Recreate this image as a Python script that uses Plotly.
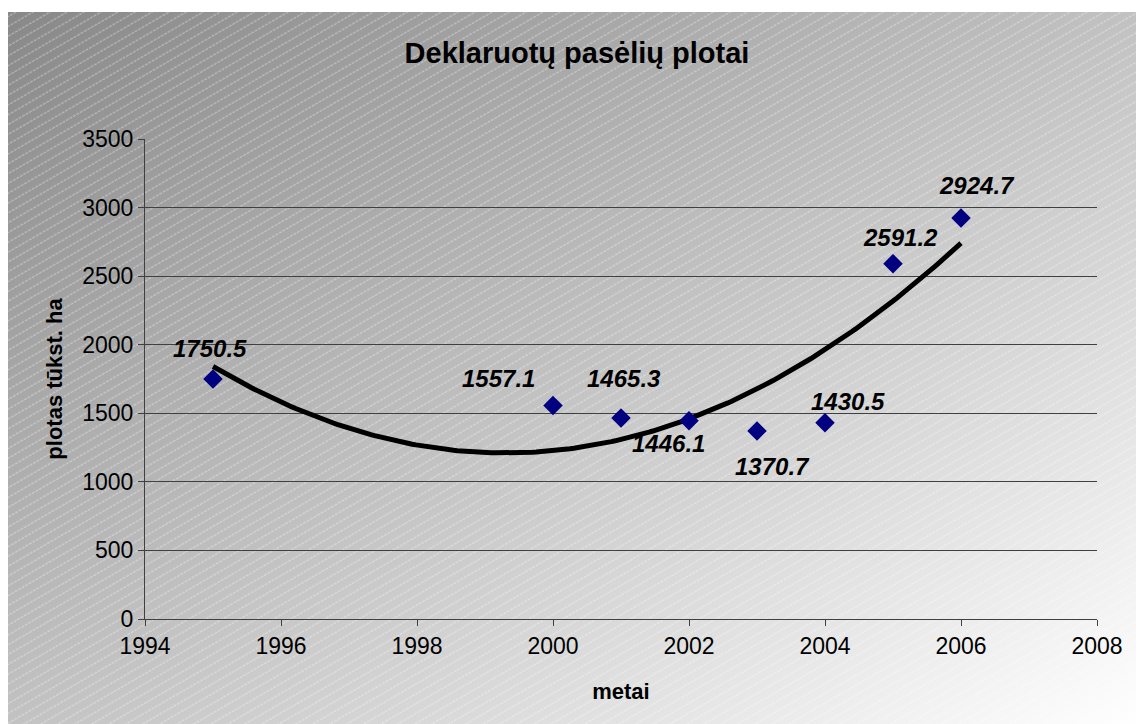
import base64
import numpy as np
import plotly.graph_objects as go

years = [1995, 2000, 2001, 2002, 2003, 2004, 2005, 2006]
area = [1750.5, 1557.1, 1465.3, 1446.1, 1370.7, 1430.5, 2591.2, 2924.7]
labels = ["1750.5", "1557.1", "1465.3", "1446.1", "1370.7", "1430.5", "2591.2", "2924.7"]
label_shift = [(-3, 30), (-55, 27), (3, 40), (-21, -23), (15, -35), (23, 21), (7, 26), (16, 32)]

# 2nd-order polynomial trendline fitted to the data
coef = np.polyfit(years, area, 2)
tx = np.linspace(min(years), max(years), 200)
ty = np.polyval(coef, tx)

W, H = 1136, 716
L, T = 137, 131
pw, ph = 952, 480
R, B = W - L - pw, H - T - ph

BGW, BGH = 1136, 712
svg = f'''<svg xmlns="http://www.w3.org/2000/svg" width="{BGW}" height="{BGH}" viewBox="0 0 {BGW} {BGH}" preserveAspectRatio="none">
<defs>
<linearGradient id="g" x1="0" y1="0" x2="1" y2="1">
<stop offset="0" stop-color="#888888"/>
<stop offset="0.5" stop-color="#c2c2c2"/>
<stop offset="1" stop-color="#ffffff"/>
</linearGradient>
<pattern id="p" width="40" height="8.5" patternUnits="userSpaceOnUse" patternTransform="rotate(-30)">
<line x1="0" y1="4" x2="40" y2="4" stroke="#ffffff" stroke-opacity="0.45" stroke-width="1" stroke-dasharray="3,1"/>
</pattern>
</defs>
<rect width="{BGW}" height="{BGH}" fill="url(#g)"/>
<rect width="{BGW}" height="{BGH}" fill="url(#p)"/>
</svg>'''
src = "data:image/svg+xml;base64," + base64.b64encode(svg.encode()).decode()

fig = go.Figure()
fig.add_trace(go.Scatter(x=tx, y=ty, mode="lines", line=dict(color="black", width=5),
                         hoverinfo="skip", showlegend=False))
fig.add_trace(go.Scatter(x=years, y=area, mode="markers",
                         marker=dict(symbol="diamond", color="#000080", size=15),
                         showlegend=False))

for x, y, t, (dx, dy) in zip(years, area, labels, label_shift):
    fig.add_annotation(x=x, y=y, text=f"<b><i>{t}</i></b>", showarrow=False, xshift=dx, yshift=dy,
                       font=dict(family="Liberation Sans, Arial", size=24, color="black"),
                       xanchor="center", yanchor="middle")

fig.add_layout_image(dict(source=src, xref="paper", yref="paper",
                          x=(0 - L) / pw, y=(T + ph - 4) / ph,
                          sizex=BGW / pw, sizey=BGH / ph,
                          sizing="stretch", xanchor="left", yanchor="top", layer="below"))

fig.update_layout(
    width=W, height=H,
    margin=dict(l=L, r=R, t=T, b=B),
    paper_bgcolor="white", plot_bgcolor="rgba(0,0,0,0)",
    font=dict(family="Liberation Sans, Arial", color="black"),
    title=dict(text="<b>Deklaruotų pasėlių plotai</b>", x=569 / W, xanchor="center",
               y=1 - 45 / H, yanchor="middle", font=dict(size=29)),
    xaxis=dict(range=[1994, 2008], tickvals=[1994, 1996, 1998, 2000, 2002, 2004, 2006, 2008],
               showgrid=False, zeroline=False, showline=True, linecolor="#404040", linewidth=1,
               ticks="outside", ticklen=6, tickcolor="#404040",
               tickfont=dict(size=23), title=dict(text="<b>metai</b>", font=dict(size=22), standoff=26)),
    yaxis=dict(range=[0, 3500], tickvals=[0, 500, 1000, 1500, 2000, 2500, 3000, 3500],
               showgrid=True, gridcolor="#404040", gridwidth=1, zeroline=False,
               showline=True, linecolor="#404040", linewidth=1,
               ticks="outside", ticklen=6, tickcolor="#404040",
               tickfont=dict(size=23), title=dict(text="<b>plotas tūkst. ha</b>", font=dict(size=22), standoff=13)),
)

fig.write_html("out.html")
